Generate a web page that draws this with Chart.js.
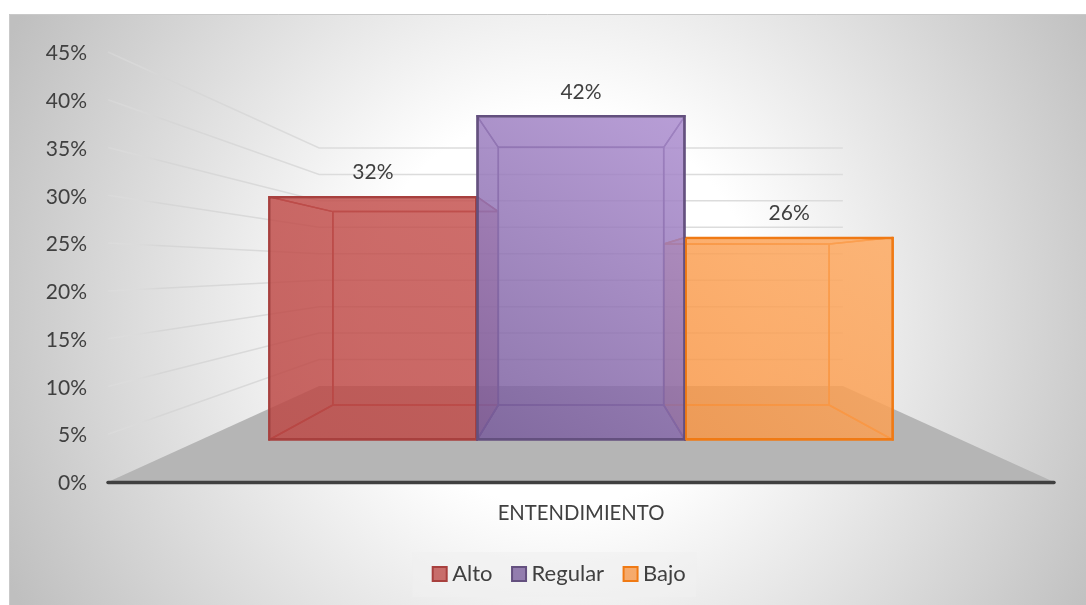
<!DOCTYPE html>
<html>
<head>
<meta charset="utf-8">
<title>Entendimiento</title>
<script src="https://cdn.jsdelivr.net/npm/chart.js@4"></script>
<style>
  body { margin: 0; background: #fff; }
  canvas { display: block; }
</style>
</head>
<body>
<canvas id="grafico" width="1086" height="605"></canvas>
<script>
const categorias = ['ENTENDIMIENTO'];
const series = ['Alto', 'Regular', 'Bajo'];
const valoresAlto = [31.6];
const valoresRegular = [42.1];
const valoresBajo = [26.3];
const ticksPorcentaje = [0, 5, 10, 15, 20, 25, 30, 35, 40, 45];

// colores de cada serie: r,g,b / borde
const rgbSeries = ['188,72,69', '120,92,155', '247,150,70'];
const rgbClaros = ['198,84,81', '176,145,212', '255,172,100'];
const bordes = ['#a8403e', '#64507f', '#f07a14'];
const colorTexto = '#404040';
const fuente = 'Lato';

// alto del area de dibujo: el eje va de y=52 a y=482
const altoPlot = 430;
// la leyenda esta centrada en x=555, no en el centro del canvas
const desplazLeyenda = 35;

// cada plano de la perspectiva es una escala oculta: cero sobre el eje y px por unidad
function plano(distanciaCero, pxPorUnidad) {
  return {
    axis: 'y',
    position: 'left',
    display: false,
    min: -distanciaCero / pxPorUnidad,
    max: (altoPlot - distanciaCero) / pxPorUnidad
  };
}

function pxUnidad(escala) {
  return Math.abs(escala.getPixelForValue(0) - escala.getPixelForValue(10)) / 10;
}

function fondoFrente(context) {
  const i = context.datasetIndex;
  const chart = context.chart;
  const area = chart.chartArea;
  if (!area || !chart.scales.front) return 'rgba(' + rgbSeries[i] + ',0.8)';
  const ancho = area.width * 0.66 / 3;
  const centro = chart.scales.x.getPixelForValue(0) + (i - 1) * ancho;
  const valor = chart.data.datasets[i].data[0];
  const g = chart.ctx.createLinearGradient(
    centro - ancho / 2, chart.scales.front.getPixelForValue(0),
    centro + ancho / 2, chart.scales.front.getPixelForValue(valor));
  g.addColorStop(0, 'rgba(' + rgbSeries[i] + ',0.78)');
  g.addColorStop(1, 'rgba(' + rgbClaros[i] + ',0.78)');
  return g;
}

function poligono(ctx, puntos, relleno, linea) {
  ctx.beginPath();
  puntos.forEach((p, n) => n ? ctx.lineTo(p[0], p[1]) : ctx.moveTo(p[0], p[1]));
  ctx.closePath();
  if (relleno) { ctx.fillStyle = relleno; ctx.fill(); }
  if (linea) {
    ctx.strokeStyle = linea;
    ctx.lineWidth = 1.5;
    ctx.lineJoin = 'round';
    ctx.stroke();
  }
}

const escena3d = {
  id: 'escena3d',
  afterLayout(chart) {
    chart.legend.left += desplazLeyenda;
    chart.legend.right += desplazLeyenda;
  },
  beforeDraw(chart) {
    const ctx = chart.ctx;
    const W = chart.width, H = chart.height;
    const g = ctx.createRadialGradient(560, 310, 0, 560, 310, 615);
    g.addColorStop(0, '#ffffff');
    g.addColorStop(0.32, '#ffffff');
    g.addColorStop(1, '#bfbfbf');
    ctx.fillStyle = '#ffffff';
    ctx.fillRect(0, 0, W, H);
    ctx.fillStyle = g;
    ctx.fillRect(9, 14, W - 9, H - 14);
    ctx.strokeStyle = '#c9c9c9';
    ctx.lineWidth = 1;
    ctx.beginPath();
    ctx.moveTo(9.5, H);
    ctx.lineTo(9.5, 14.5);
    ctx.lineTo(W, 14.5);
    ctx.stroke();

    // caja de la leyenda
    const cajas = chart.legend.legendHitBoxes;
    const yLeyenda = chart.legend.top + 36;
    ctx.fillStyle = 'rgba(240,240,240,0.6)';
    ctx.fillRect(cajas[0].left - 26, yLeyenda - 22, 284, 45);
  },
  // se dibuja todo aqui para poner cada barra de atras hacia adelante
  beforeDatasetsDraw(chart) {
    const ctx = chart.ctx;
    const { y, wall, back, front } = chart.scales;
    const area = chart.chartArea;
    const cx = (area.left + area.right) / 2;
    const kPared = pxUnidad(wall) / pxUnidad(y);
    const xParedIzq = cx - (cx - area.left) * kPared;
    const xParedDer = cx + (area.right - cx) * kPared;

    // lineas de la pared y del lateral, se pierden hacia la izquierda
    const lineaPared = ctx.createLinearGradient(area.left, 0, xParedIzq, 0);
    lineaPared.addColorStop(0, 'rgba(225,225,225,0.3)');
    lineaPared.addColorStop(0.25, '#d6d6d6');
    lineaPared.addColorStop(1, '#dcdcdc');
    ctx.save();
    ctx.lineWidth = 1.5;
    ctx.strokeStyle = lineaPared;
    ticksPorcentaje.forEach(t => {
      if (t === 0) return;
      ctx.beginPath();
      ctx.moveTo(area.left, y.getPixelForValue(t));
      ctx.lineTo(xParedIzq, wall.getPixelForValue(t));
      ctx.lineTo(xParedDer, wall.getPixelForValue(t));
      ctx.stroke();
    });
    ctx.restore();

    // suelo
    poligono(ctx, [
      [area.left, area.bottom],
      [xParedIzq, wall.getPixelForValue(0)],
      [xParedDer, wall.getPixelForValue(0)],
      [area.right, area.bottom]
    ], '#b5b5b5');

    // linea del eje
    ctx.save();
    ctx.strokeStyle = '#404040';
    ctx.lineWidth = 3.5;
    ctx.lineCap = 'round';
    ctx.beginPath();
    ctx.moveTo(area.left, area.bottom + 0.5);
    ctx.lineTo(area.right, area.bottom + 0.5);
    ctx.stroke();
    ctx.restore();

    const kFondo = pxUnidad(back) / pxUnidad(front);
    const caras = i => {
      const ds = chart.data.datasets[i];
      const bar = chart.getDatasetMeta(i).data[0];
      const izq = bar.x - bar.width / 2, der = bar.x + bar.width / 2;
      const arriba = bar.y, abajo = bar.base;
      const bIzq = cx + (izq - cx) * kFondo, bDer = cx + (der - cx) * kFondo;
      const bArriba = back.getPixelForValue(ds.data[0]), bAbajo = back.getPixelForValue(0);
      const cara = 'rgba(' + rgbSeries[i] + ',0.3)';
      const linea = bordes[i];
      poligono(ctx, [[bIzq, bArriba], [bDer, bArriba], [bDer, bAbajo], [bIzq, bAbajo]], cara, linea);
      poligono(ctx, [[izq, abajo], [bIzq, bAbajo], [bDer, bAbajo], [der, abajo]], cara, linea);
      poligono(ctx, [[izq, arriba], [bIzq, bArriba], [bIzq, bAbajo], [izq, abajo]], cara, linea);
      poligono(ctx, [[der, arriba], [bDer, bArriba], [bDer, bAbajo], [der, abajo]], cara, linea);
      poligono(ctx, [[izq, arriba], [bIzq, bArriba], [bDer, bArriba], [der, arriba]], cara, linea);
    };
    const frente = i => chart.getDatasetMeta(i).controller.draw();

    // Regular tapa los laterales de Alto y Bajo, pero el frente de Bajo va encima
    caras(0);
    frente(0);
    caras(2);
    caras(1);
    frente(1);
    frente(2);

    // etiquetas de valor
    ctx.fillStyle = colorTexto;
    ctx.font = '21px ' + fuente;
    ctx.textAlign = 'center';
    ctx.textBaseline = 'middle';
    chart.data.datasets.forEach((ds, i) => {
      const bar = chart.getDatasetMeta(i).data[0];
      ctx.fillText(Math.round(ds.data[0]) + '%', bar.x, bar.y - 24);
    });
    return false;
  }
};

new Chart(document.getElementById('grafico'), {
  type: 'bar',
  data: {
    labels: categorias,
    datasets: [valoresAlto, valoresRegular, valoresBajo].map((valores, i) => ({
      label: series[i],
      data: valores,
      yAxisID: 'front',
      backgroundColor: fondoFrente,
      borderColor: bordes[i],
      borderWidth: 2,
      borderSkipped: false,
      categoryPercentage: 0.66,
      barPercentage: 1
    }))
  },
  options: {
    responsive: false,
    animation: false,
    layout: { padding: { top: 52, left: 0, right: 32, bottom: 10 } },
    plugins: {
      tooltip: { enabled: false },
      legend: {
        position: 'bottom',
        labels: {
          usePointStyle: true,
          pointStyle: 'rect',
          boxWidth: 3,
          boxHeight: 14,
          padding: 25,
          color: colorTexto,
          font: { family: fuente, size: 22 }
        }
      }
    },
    scales: {
      x: {
        grid: { display: false },
        border: { display: false },
        ticks: { color: colorTexto, padding: 11, font: { family: fuente, size: 20.3 } },
        afterFit(escala) { escala.height = 56; }
      },
      y: {
        min: 0,
        max: 45,
        grid: { display: false },
        border: { display: false },
        afterFit(escala) { escala.width = 108; },
        afterBuildTicks(escala) { escala.ticks = ticksPorcentaje.map(v => ({ value: v })); },
        ticks: {
          color: colorTexto,
          padding: 13,
          labelOffset: 1.5,
          font: { family: fuente, size: 21 },
          callback: v => v + '%'
        }
      },
      front: plano(42, 7.7),
      back: plano(77, 6.12),
      wall: plano(96, 5.29)
    }
  },
  plugins: [escena3d]
});
</script>
</body>
</html>
